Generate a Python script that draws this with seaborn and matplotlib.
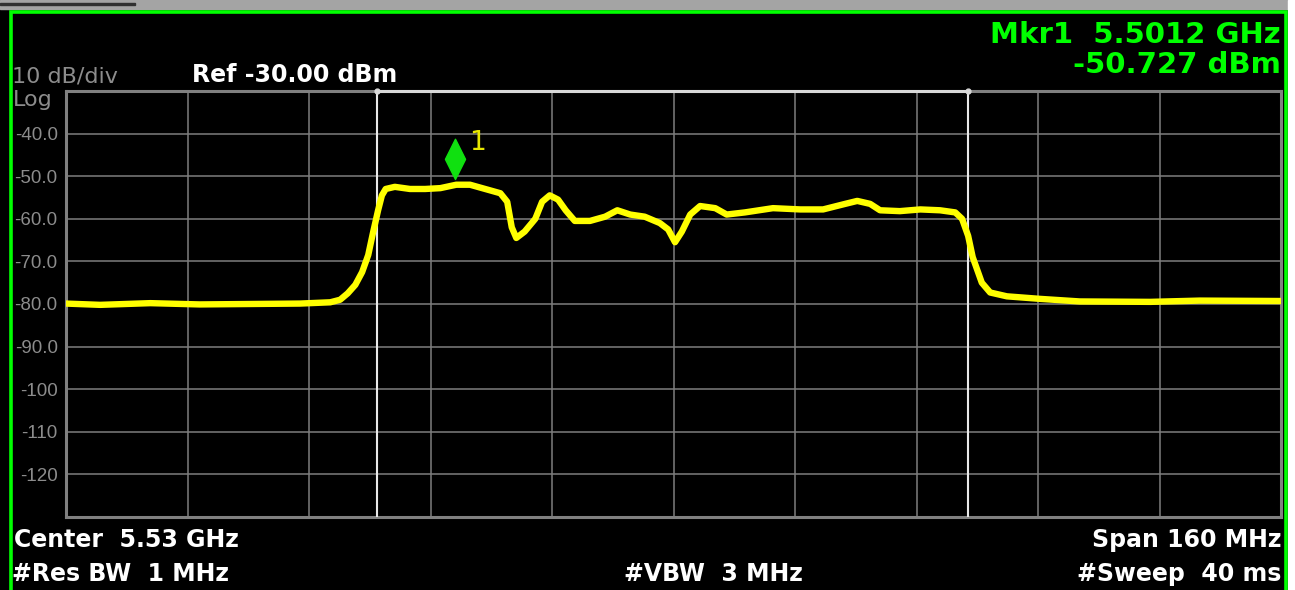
import numpy as np
import seaborn as sns
import matplotlib.pyplot as plt
from matplotlib.patches import Rectangle
from matplotlib.path import Path

# spectrum trace (GHz, dBm)
trace_freq_ghz = [5.4500, 5.4545, 5.4611, 5.4676, 5.4742, 5.4808, 5.4848, 5.4861,
                  5.4871, 5.4881, 5.4890, 5.4898, 5.4904, 5.4911, 5.4916, 5.4921,
                  5.4933, 5.4953, 5.4973, 5.4993, 5.5014, 5.5032, 5.5052, 5.5072,
                  5.5081, 5.5087, 5.5093, 5.5104, 5.5118, 5.5127, 5.5137, 5.5148,
                  5.5158, 5.5170, 5.5190, 5.5210, 5.5226, 5.5243, 5.5262, 5.5282,
                  5.5293, 5.5302, 5.5311, 5.5322, 5.5335, 5.5355, 5.5370, 5.5394,
                  5.5431, 5.5467, 5.5497, 5.5526, 5.5542, 5.5559, 5.5572, 5.5598,
                  5.5625, 5.5651, 5.5671, 5.5680, 5.5688, 5.5694, 5.5700, 5.5706,
                  5.5717, 5.5739, 5.5783, 5.5835, 5.5928, 5.5993, 5.6100]
trace_level_dbm = [-79.9, -80.2, -79.8, -80.1, -80.0, -79.9, -79.6, -79.0,
                   -77.5, -75.5, -72.5, -68.5, -63.5, -58.0, -54.5, -53.0,
                   -52.5, -53.0, -53.0, -52.8, -52.0, -52.0, -53.0, -54.0,
                   -56.0, -62.0, -64.5, -63.0, -60.0, -56.0, -54.5, -55.5,
                   -58.0, -60.5, -60.5, -59.5, -58.0, -59.0, -59.5, -61.0,
                   -62.5, -65.5, -63.0, -59.0, -57.0, -57.5, -59.0, -58.5,
                   -57.5, -57.8, -57.8, -56.5, -55.8, -56.5, -58.0, -58.2,
                   -57.8, -58.0, -58.5, -60.0, -64.0, -69.0, -72.0, -75.0,
                   -77.3, -78.2, -78.8, -79.4, -79.5, -79.2, -79.3]

ytick_values = [-40, -50, -60, -70, -80, -90, -100, -110, -120]
ytick_labels = ["-40.0", "-50.0", "-60.0", "-70.0", "-80.0", "-90.0", "-100", "-110", "-120"]

band_edges_ghz = [5.4909, 5.5688]
mkr_freq_ghz = 5.5012
mkr_level_dbm = -50.727

sns.set_theme(style="dark", rc={"axes.facecolor": "black", "figure.facecolor": "black"})
plt.rcParams['font.family'] = ['DejaVu Sans']

W, H = 1295, 590
fig = plt.figure(figsize=(W / 100, H / 100), dpi=100, facecolor="black")
ax = fig.add_axes([66 / W, 1 - 517 / H, 1215 / W, 426 / H])
ax.set_facecolor("black")

# window frame bits
fig.patches.append(Rectangle((0, 1 - 9 / H), 1, 9 / H, transform=fig.transFigure,
                             color="#a4a4a4", zorder=0))
fig.patches.append(Rectangle((0, 1 - 5 / H), 135 / W, 2 / H, transform=fig.transFigure,
                             color="#303030", zorder=1))
fig.patches.append(Rectangle((1288 / W, 0), 7 / W, 1, transform=fig.transFigure,
                             color="white", zorder=0))
fig.patches.append(Rectangle((11.5 / W, -0.05), 1274 / W, (H - 11.5) / H + 0.05,
                             transform=fig.transFigure, fill=False,
                             edgecolor="#00ff00", linewidth=2.6, zorder=2))

sns.lineplot(x=trace_freq_ghz, y=trace_level_dbm, ax=ax, color="#ffff00",
             linewidth=4.6, zorder=4, solid_joinstyle="round")

ax.set_xlim(5.45, 5.61)
ax.set_ylim(-130, -30)
ax.set_xticks(np.linspace(5.45, 5.61, 11))
ax.set_xticklabels([])
ax.set_yticks(ytick_values)
ax.set_yticklabels(ytick_labels, fontfamily="Liberation Sans", fontsize=13.5, color="#8c8c8c")
ax.tick_params(length=0, pad=6)
ax.grid(True, color="#7e7e7e", linewidth=1.1)
ax.set_xlabel("")
ax.set_ylabel("")
for s in ax.spines.values():
    s.set_color("#808080")
    s.set_linewidth(2.2)

# band edge lines
for f in band_edges_ghz:
    ax.axvline(f, color="#e8e8e8", linewidth=1.5, zorder=3)
ax.plot(band_edges_ghz, [-30, -30], color="#d8d8d8", linewidth=2.2, marker="o",
        markersize=3.5, zorder=5, clip_on=False)

# marker 1 diamond, tip on the marker point
diamond = Path([(0, 0), (0.5, 1), (0, 2), (-0.5, 1), (0, 0)],
               [Path.MOVETO, Path.LINETO, Path.LINETO, Path.LINETO, Path.CLOSEPOLY])
ax.plot([mkr_freq_ghz], [mkr_level_dbm], marker=diamond, markersize=58,
        color="#10e010", linestyle="none", zorder=6)
ax.annotate("1", xy=(mkr_freq_ghz, mkr_level_dbm), xytext=(10, 21),
            textcoords="offset points", ha="left", va="baseline",
            fontsize=19, color="#e6e600", zorder=6)

def ftext(x, y, s, **kw):
    fig.text(x / W, 1 - y / H, s, va="baseline", **kw)

ftext(12, 82, "10 dB/div", fontsize=16, color="#8c8c8c")
ftext(13, 106, "Log", fontsize=16, color="#8c8c8c")
ftext(192, 82, "Ref -30.00 dBm", fontsize=17, fontweight="bold", color="white")
ftext(1281, 43, "Mkr1  5.5012 GHz", fontsize=21, fontweight="bold", color="#00ff00", ha="right")
ftext(1281, 73, "-50.727 dBm", fontsize=21, fontweight="bold", color="#00ff00", ha="right")
ftext(14, 547, "Center  5.53 GHz", fontsize=17, fontweight="bold", color="white")
ftext(12, 581, "#Res BW  1 MHz", fontsize=17, fontweight="bold", color="white")
ftext(713, 581, "#VBW  3 MHz", fontsize=17, fontweight="bold", color="white", ha="center")
ftext(1281, 547, "Span 160 MHz", fontsize=17, fontweight="bold", color="white", ha="right")
ftext(1281, 581, "#Sweep  40 ms", fontsize=17, fontweight="bold", color="white", ha="right")

fig.savefig("out.png", dpi=100, facecolor="black")
